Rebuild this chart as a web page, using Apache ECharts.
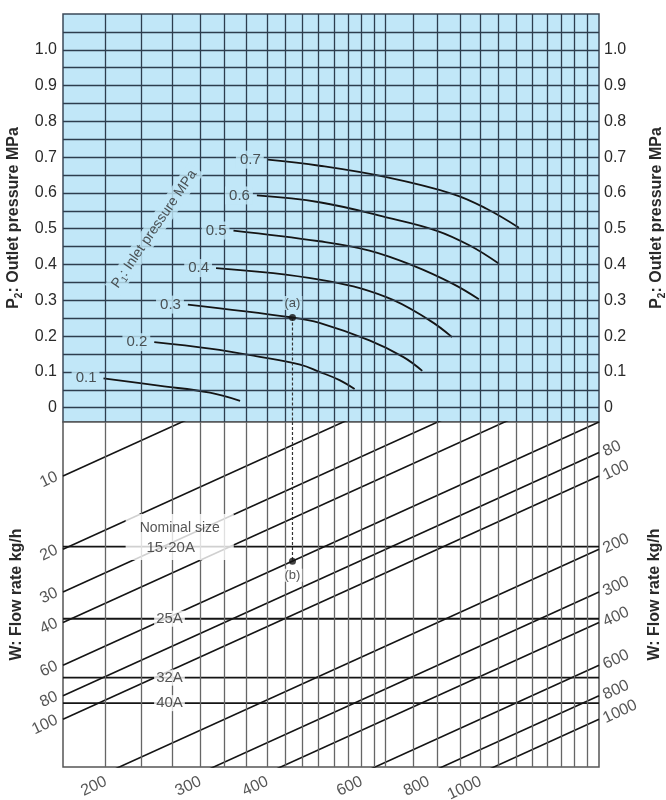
<!DOCTYPE html>
<html>
<head>
<meta charset="utf-8">
<script src="https://cdn.jsdelivr.net/npm/echarts@6/dist/echarts.min.js"></script>
<style>
  html, body { margin: 0; padding: 0; background: #fff; }
  #chart { width: 666px; height: 800px; }
</style>
</head>
<body>
<div id="chart"></div>
<script>
// shared x: log scale, one decade across the width
const kMin = 1, kMax = 10
const kGrid = [1.2, 1.4, 1.6, 1.8, 2, 2.2, 2.4, 2.6, 2.8, 3, 3.2, 3.4, 3.6, 3.8, 4, 4.5, 5, 5.5, 6, 6.5, 7, 7.5, 8, 8.5, 9, 9.5]

// upper panel: outlet pressure P2 (MPa)
const p2Min = -0.04, p2Max = 1.1
const p2Grid = [0, 0.05, 0.1, 0.15, 0.2, 0.25, 0.3, 0.35, 0.4, 0.45, 0.5, 0.55, 0.6, 0.65, 0.7, 0.75, 0.8, 0.85, 0.9, 0.95, 1.0, 1.05]
const p2Ticks = [0, 0.1, 0.2, 0.3, 0.4, 0.5, 0.6, 0.7, 0.8, 0.9, 1.0]

// inlet pressure curves, points [k, P2]
const p1Levels = ['0.1', '0.2', '0.3', '0.4', '0.5', '0.6', '0.7']
const p1Curves = [
    [[1.19, 0.082], [1.52, 0.061], [1.88, 0.042], [2.14, 0.019]],
    [[1.48, 0.183], [1.88, 0.165], [2.33, 0.142], [2.77, 0.120], [3.01, 0.100], [3.28, 0.077], [3.50, 0.052]],
    [[1.71, 0.288], [2.68, 0.252], [3.01, 0.237], [3.73, 0.188], [4.31, 0.142], [4.68, 0.103]],
    [[1.93, 0.390], [3.01, 0.358], [4.01, 0.309], [4.83, 0.244], [5.32, 0.197]],
    [[2.08, 0.495], [3.01, 0.465], [3.73, 0.439], [4.50, 0.397], [5.34, 0.346], [5.97, 0.303]],
    [[2.30, 0.593], [3.01, 0.574], [4.01, 0.532], [4.97, 0.495], [5.74, 0.453], [6.51, 0.402]],
    [[2.41, 0.693], [3.01, 0.676], [4.01, 0.644], [5.34, 0.597], [6.17, 0.556], [7.09, 0.503]]
]

// lower panel: size scale s, flow rate W = k * s
const sMin = 6, sMax = 157
const flowLines = [10, 20, 30, 40, 60, 80, 100, 200, 300, 400, 600, 800, 1000]
const flowLeft = [10, 20, 30, 40, 60, 80, 100]
const flowRight = [80, 100, 200, 300, 400, 600, 800, 1000]
const flowBottom = [200, 300, 400, 600, 800, 1000]
const sizeNames = ['15·20A', '25A', '32A', '40A']
const sizeLevels = [19.5, 38.6, 67.4, 85.8]

// worked example (a) -> (b)
const exampleK = 2.68
const exampleP2 = 0.252
const exampleS = 22.4

const FONT = '"Liberation Sans", Arial, Helvetica, sans-serif'
const BLUE = '#c1e7f8'
const UPPER_LINE = '#2d3d4e'
const LOWER_LINE = '#666'
const INK = '#141414'
const TEXT = '#2a2a2a'

const titleRich = {
    b: { fontSize: 16, fontWeight: 'bold', color: TEXT, fontFamily: FONT, lineHeight: 20 },
    s: { fontSize: 10, fontWeight: 'bold', color: TEXT, fontFamily: FONT, lineHeight: 12, verticalAlign: 'bottom', padding: [6, 0, 0, 0] }
}

const chart = echarts.init(document.getElementById('chart'), null, { renderer: 'canvas' })

const gridLines = (xi, yi, color, withHorizontal) => ({
    type: 'line',
    xAxisIndex: xi,
    yAxisIndex: yi,
    data: [],
    z: 1,
    silent: true,
    markLine: {
        silent: true,
        animation: false,
        symbol: ['none', 'none'],
        label: { show: false },
        emphasis: { disabled: true },
        lineStyle: { color: color, width: 1.3, type: 'solid' },
        data: kGrid.map(k => ({ xAxis: k }))
            .concat(withHorizontal ? p2Grid.map(p => ({ yAxis: p })) : [])
    }
})

const curveSeries = p1Curves.map(pts => ({
    type: 'line',
    xAxisIndex: 0,
    yAxisIndex: 0,
    z: 3,
    silent: true,
    smooth: 0.4,
    symbol: 'none',
    lineStyle: { color: INK, width: 1.8 },
    data: pts
}))

const flowSeries = flowLines.map(w => ({
    type: 'line',
    xAxisIndex: 1,
    yAxisIndex: 2,
    z: 3,
    silent: true,
    symbol: 'none',
    clip: true,
    lineStyle: { color: INK, width: 1.6 },
    data: [[kMin, w / kMin], [kMax, w / kMax]]
}))

const sizeSeries = sizeLevels.map(s => ({
    type: 'line',
    xAxisIndex: 1,
    yAxisIndex: 2,
    z: 3,
    silent: true,
    symbol: 'none',
    lineStyle: { color: INK, width: 1.8 },
    data: [[kMin, s], [kMax, s]]
}))

const tickFont = { fontSize: 16, color: TEXT, fontFamily: FONT }

// upper annotations: curve labels, axis note, point (a)
const upperNotes = {
    type: 'scatter',
    xAxisIndex: 0,
    yAxisIndex: 0,
    z: 6,
    silent: true,
    clip: false,
    symbolSize: 0,
    data: p1Curves.map((pts, i) => ({
        value: pts[0],
        label: {
            show: true, position: 'left', distance: 4, formatter: p1Levels[i],
            fontSize: 15, color: TEXT, fontFamily: FONT,
            backgroundColor: BLUE, padding: [2, 3, 1, 4]
        }
    })).concat([
        {
            value: [1.48, 0.499],
            label: {
                show: true, position: 'inside', rotate: 55.6,
                formatter: '{n|P}{s|1}{n|: Inlet pressure MPa}',
                backgroundColor: BLUE, padding: [1, 4, 1, 4],
                rich: {
                    n: { fontSize: 14, color: TEXT, fontFamily: FONT, lineHeight: 17 },
                    s: { fontSize: 9, color: TEXT, fontFamily: FONT, lineHeight: 10, verticalAlign: 'bottom', padding: [5, 0, 0, 0] }
                }
            }
        },
        {
            value: [exampleK, exampleP2],
            symbolSize: 7,
            itemStyle: { color: INK },
            label: {
                show: true, position: 'top', distance: 4, formatter: '(a)',
                fontSize: 13, color: TEXT, fontFamily: FONT,
                backgroundColor: BLUE, padding: [1, 2, 0, 2]
            }
        }
    ])
}

// lower annotations: flow labels on three edges, nominal sizes, point (b)
const edgeLabel = (pos, extra) => Object.assign({
    show: true, position: pos, rotate: 25,
    fontSize: 16, color: TEXT, fontFamily: FONT
}, extra)

const lowerNotes = {
    type: 'scatter',
    xAxisIndex: 1,
    yAxisIndex: 2,
    z: 6,
    silent: true,
    clip: false,
    symbolSize: 0,
    data: [].concat(
        flowLeft.map(w => ({
            value: [kMin, w / kMin],
            label: edgeLabel('left', { distance: 6, formatter: String(w) })
        })),
        flowRight.map(w => ({
            value: [kMax, w / kMax],
            label: edgeLabel('right', { distance: 5, formatter: String(w) })
        })),
        flowBottom.map(w => ({
            value: [w / sMax, sMax],
            label: edgeLabel('bottom', { distance: 2, align: 'right', verticalAlign: 'top', offset: [-17, -3], formatter: String(w) })
        })),
        sizeNames.slice(1).map((n, i) => ({
            value: [1.58, sizeLevels[i + 1]],
            label: {
                show: true, position: 'inside', formatter: n,
                fontSize: 15, color: TEXT, fontFamily: FONT,
                backgroundColor: '#fff', padding: [1, 2, 0, 2]
            }
        })),
        [{
            value: [1.651, 17.8],
            label: {
                show: true, position: 'inside',
                formatter: '{t|Nominal size}\n{u|' + sizeNames[0] + '}',
                backgroundColor: '#fff', padding: [5, 14, 3, 14],
                rich: {
                    t: { fontSize: 14, color: TEXT, fontFamily: FONT, lineHeight: 19 },
                    u: { fontSize: 15, color: TEXT, fontFamily: FONT, lineHeight: 19, padding: [0, 18, 0, 0] }
                }
            }
        }, {
            value: [exampleK, exampleS],
            symbolSize: 7,
            itemStyle: { color: INK },
            label: {
                show: true, position: 'bottom', distance: 4, formatter: '(b)',
                fontSize: 13, color: TEXT, fontFamily: FONT,
                backgroundColor: '#fff', padding: [0, 2, 0, 2]
            }
        }]
    )
}

const dashed = (xi, yi, pts) => ({
    type: 'line',
    xAxisIndex: xi,
    yAxisIndex: yi,
    z: 4,
    silent: true,
    symbol: 'none',
    lineStyle: { color: '#333', width: 1.2, type: [3, 2] },
    data: pts
})

const hiddenAxis = {
    axisLine: { show: false },
    axisTick: { show: false },
    splitLine: { show: false }
}

chart.setOption({
    animation: false,
    backgroundColor: '#fff',
    grid: [
        { left: 63, right: 67, top: 14, height: 408, outerBoundsMode: 'none', containLabel: false, show: true, backgroundColor: BLUE, borderColor: '#3b4a58', borderWidth: 1.5 },
        { left: 63, right: 67, top: 422, height: 345, outerBoundsMode: 'none', containLabel: false, show: true, backgroundColor: '#fff', borderColor: '#555', borderWidth: 1.5 }
    ],
    xAxis: [
        { gridIndex: 0, type: 'log', logBase: 10, min: kMin, max: kMax, show: false },
        { gridIndex: 1, type: 'log', logBase: 10, min: kMin, max: kMax, show: false }
    ],
    yAxis: [
        Object.assign({
            gridIndex: 0, type: 'value', position: 'left', min: p2Min, max: p2Max,
            axisLabel: Object.assign({ customValues: p2Ticks, margin: 6, formatter: v => v === 0 ? '0' : v.toFixed(1) }, tickFont),
            name: '{b|P}{s|2}{b|: Outlet pressure MPa}', nameLocation: 'middle', nameRotate: 90, nameGap: 38,
            nameTextStyle: { rich: titleRich }
        }, hiddenAxis),
        Object.assign({
            gridIndex: 0, type: 'value', position: 'right', min: p2Min, max: p2Max,
            axisLabel: Object.assign({ customValues: p2Ticks, margin: 5, formatter: v => v === 0 ? '0' : v.toFixed(1) }, tickFont),
            name: '{b|P}{s|2}{b|: Outlet pressure MPa}', nameLocation: 'middle', nameRotate: 90, nameGap: 48,
            nameTextStyle: { rich: titleRich }
        }, hiddenAxis),
        Object.assign({
            gridIndex: 1, type: 'log', logBase: 10, position: 'left', min: sMin, max: sMax, inverse: true,
            axisLabel: { show: false },
            name: 'W: Flow rate kg/h', nameLocation: 'middle', nameRotate: 90, nameGap: 38,
            nameTextStyle: { fontSize: 16, fontWeight: 'bold', color: TEXT, fontFamily: FONT }
        }, hiddenAxis),
        Object.assign({
            gridIndex: 1, type: 'value', position: 'right', min: 0, max: 1,
            axisLabel: { show: false },
            name: 'W: Flow rate kg/h', nameLocation: 'middle', nameRotate: 90, nameGap: 48,
            nameTextStyle: { fontSize: 16, fontWeight: 'bold', color: TEXT, fontFamily: FONT }
        }, hiddenAxis)
    ],
    series: [
        gridLines(0, 0, UPPER_LINE, true),
        gridLines(1, 2, LOWER_LINE, false)
    ].concat(
        curveSeries,
        flowSeries,
        sizeSeries,
        [
            dashed(0, 0, [[exampleK, exampleP2], [exampleK, p2Min]]),
            dashed(1, 2, [[exampleK, sMin], [exampleK, exampleS]]),
            upperNotes,
            lowerNotes
        ]
    )
})
</script>
</body>
</html>
